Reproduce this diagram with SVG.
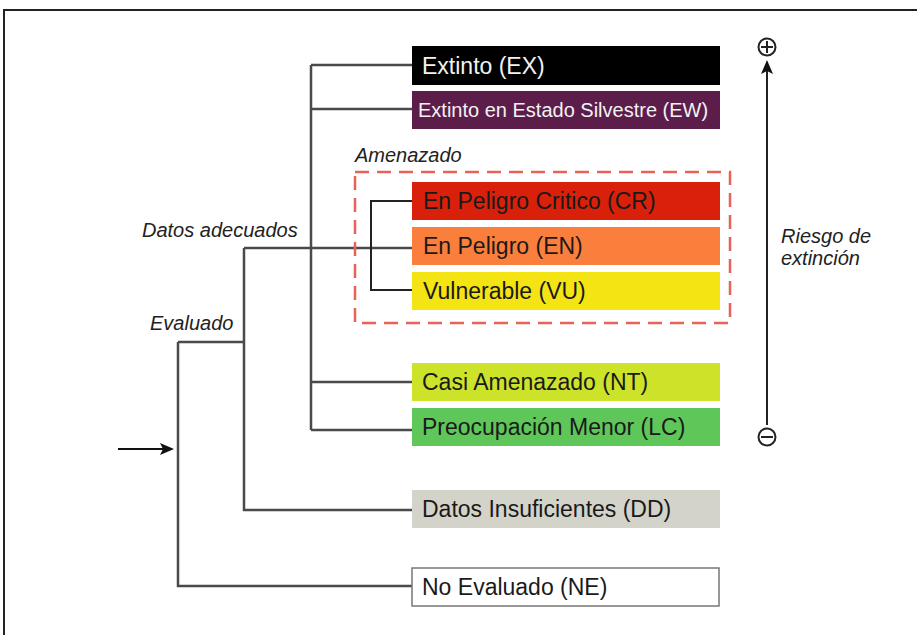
<svg xmlns="http://www.w3.org/2000/svg" width="917" height="635" viewBox="0 0 917 635">
<style>
.t{font-family:"Liberation Sans",Arial,sans-serif;font-size:23px;fill:#1a1a1a}
.w{fill:#f2f2f2}
.i{font-family:"Liberation Sans",Arial,sans-serif;font-size:20px;font-style:italic;fill:#222}
.c{fill:none;stroke:#4a4a4a;stroke-width:2.5}
.c2{fill:none;stroke:#222;stroke-width:2}
</style>
<defs>
<marker id="ah" markerWidth="14" markerHeight="14" refX="12" refY="7" orient="auto" markerUnits="userSpaceOnUse">
<path d="M0,1 L14,7 L0,13 L3,7 Z" fill="#111"/>
</marker>
</defs>
<rect width="917" height="635" fill="#fff"/>
<path d="M4,635 V10 H917" fill="none" stroke="#222" stroke-width="2"/>
<g id="connectors">
<path class="c" d="M311,65 V430 M311,65 H412 M311,109 H412 M311,382 H412 M311,430 H412"/>
<path class="c" d="M244,248 H412 M244,248 V510 H412"/>
<path class="c2" d="M412,201 H371 V290 H412"/>
<path class="c" d="M178,342 H244 M178,342 V586 H412"/>
<path d="M118,449 H172" stroke="#111" stroke-width="2" marker-end="url(#ah)"/>
<path d="M767,425 V62" stroke="#222" stroke-width="2" marker-end="url(#ah)"/>
</g>
<g id="threatened-group">
<rect x="355" y="172" width="375" height="151" fill="none" stroke="#e8625a" stroke-width="2.5" stroke-dasharray="14,8"/>
<text class="i" x="355" y="162">Amenazado</text>
</g>
<g id="EX"><rect x="412" y="46" width="308" height="39" fill="#000"/><text class="t w" x="422" y="74">Extinto (EX)</text></g>
<g id="EW"><rect x="412" y="91" width="308" height="38" fill="#5c1d4a"/><text class="t w" x="418" y="117" style="font-size:20px">Extinto en Estado Silvestre (EW)</text></g>
<g id="CR"><rect x="412" y="182" width="308" height="38" fill="#d8200a"/><text class="t" x="423" y="209">En Peligro Critico (CR)</text></g>
<g id="EN"><rect x="412" y="227" width="308" height="38" fill="#fb7f3c"/><text class="t" x="423" y="254">En Peligro (EN)</text></g>
<g id="VU"><rect x="412" y="272" width="308" height="38" fill="#f5e414"/><text class="t" x="423" y="299">Vulnerable (VU)</text></g>
<g id="NT"><rect x="412" y="363" width="308" height="38" fill="#cde32a"/><text class="t" x="422" y="390">Casi Amenazado (NT)</text></g>
<g id="LC"><rect x="412" y="408" width="308" height="38" fill="#5fc65a"/><text class="t" x="422" y="435">Preocupación Menor (LC)</text></g>
<g id="DD"><rect x="412" y="490" width="308" height="38" fill="#d3d3c9"/><text class="t" x="422" y="517">Datos Insuficientes (DD)</text></g>
<g id="NE"><rect x="412" y="568" width="307" height="38" fill="#fff" stroke="#777" stroke-width="1.5"/><text class="t" x="422" y="595">No Evaluado (NE)</text></g>
<g id="labels">
<text class="i" x="142" y="237">Datos adecuados</text>
<text class="i" x="150" y="330">Evaluado</text>
<text class="i" x="781" y="243">Riesgo de</text>
<text class="i" x="781" y="265">extinción</text>
</g>
<g id="plus"><circle cx="767" cy="47" r="8.5" fill="none" stroke="#222" stroke-width="2"/><path d="M761,47 H773 M767,41 V53" stroke="#222" stroke-width="2"/></g>
<g id="minus"><circle cx="767" cy="437" r="8.5" fill="none" stroke="#222" stroke-width="2"/><path d="M761,437 H773" stroke="#222" stroke-width="2"/></g>
</svg>
